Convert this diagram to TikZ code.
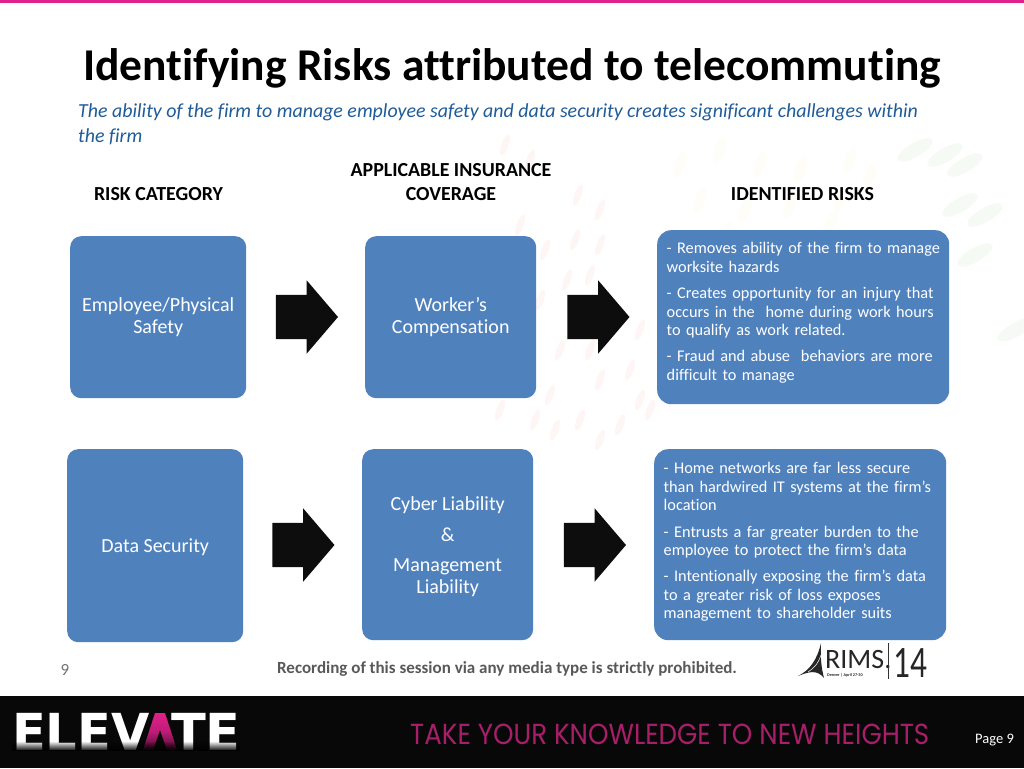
\documentclass[tikz,border=0pt]{standalone}
\usepackage{fontspec}
\setmainfont[RawFeature={-liga;-clig}]{Carlito}
\newfontfamily\tagfont{Poppins}
\newfontfamily\logofont{DejaVu Sans}
\usetikzlibrary{shapes.arrows,fadings}
\definecolor{boxblue}{HTML}{4F81BD}
\definecolor{subblue}{HTML}{1F5C99}
\definecolor{pinkbar}{HTML}{E0218A}
\definecolor{magtext}{HTML}{A81E68}
\definecolor{bgpink}{HTML}{FDF6F5}
\definecolor{bgyellow}{HTML}{FEFDF7}
\definecolor{bggreen}{HTML}{F6FAF4}
\tikzset{
  x=1pt,y=-1pt,
  box/.style={fill=boxblue,draw=none,rounded corners=11pt,text=white,align=center,inner sep=0pt,anchor=north west,font=\fontsize{20}{22}\selectfont},
  riskbox/.style={fill=boxblue,draw=none,rounded corners=14pt,anchor=north west},
  risktext/.style={text=white,align=left,anchor=west,inner sep=0pt,text width=287pt,font=\fontsize{16.3}{18.6}\selectfont},
  blockarrow/.style={single arrow,fill=black!95,draw=none,minimum height=62pt,single arrow head extend=14.5pt,single arrow tip angle=99,inner sep=0pt,outer sep=0pt},
  heading/.style={font=\bfseries\fontsize{19.9}{24.5}\selectfont,align=center,text=black,inner sep=0pt},
}
\newcommand{\shaft}{\rule{0pt}{44pt}}
\begin{document}
\begin{tikzpicture}
\useasboundingbox (0,0) rectangle (1024,768);
\fill[white] (0,0) rectangle (1024,768);
% faint background streaks
\foreach \px/\py in {505/145,530/160,578/195,600/210,520/225,575/240,600/245,545/250,590/275,567/280,522/290,540/300,575/310,610/320,640/330,525/340,560/350,590/350,630/370,520/385,550/395,600/380,640/400,500/410,535/420,580/420,620/425,650/410,555/430,600/440}
  \fill[bgpink,rotate around={-20:(\px,\py)}] (\px,\py) ellipse (3.5 and 11);
\foreach \px/\py in {680/165,720/150,760/165,800/170,850/160,700/200,745/210,790/205,840/200,870/175,725/235,830/225}
  \fill[bgyellow,rotate around={-20:(\px,\py)}] (\px,\py) ellipse (5 and 14);
\foreach \px/\py in {915/150,945/155,965/165,985/215,975/255,960/205,1015/330}
  \fill[bggreen,rotate around={-60:(\px,\py)}] (\px,\py) ellipse (7 and 20);
\fill[pinkbar] (0,0) rectangle (1024,3);
% title
\node[inner sep=0pt,font=\bfseries\fontsize{45.5}{48}\selectfont] (title) at (512,68.5) {Identifying Risks attributed to telecommuting};
\node[inner sep=0pt,anchor=north west,align=left,text=subblue,font=\itshape\fontsize{19.9}{24.5}\selectfont] (sub) at (78,103.5) {The ability of the firm to manage employee safety and data security creates significant challenges within\\the firm};
% headings
\node[heading] (h1) at (158.5,194) {RISK CATEGORY};
\node[heading] (h2) at (451,182) {APPLICABLE INSURANCE\\COVERAGE};
\node[heading] (h3) at (802.5,194) {IDENTIFIED RISKS};
% row 1
\node[box,minimum width=176pt,minimum height=162pt] (a1) at (70,236) {Employee/Physical\\Safety};
\node[box,minimum width=171pt,minimum height=162pt] (b1) at (365,236) {Worker’s\\Compensation};
\node[riskbox,minimum width=292pt,minimum height=174pt] (c1) at (657,230) {};
\node[risktext] (c1a) at (666.5,257.5) {- Removes ability of the firm to manage\\worksite hazards};
\node[risktext] (c1b) at (666.5,313) {- Creates opportunity for an injury that\\occurs in the~ home during work hours\\to qualify as work related.};
\node[risktext] (c1c) at (666.5,366.5) {- Fraud and abuse~ behaviors are more\\difficult to manage};
\node[blockarrow] (ar1) at (297.5,317) {\shaft};
\node[blockarrow] (ar2) at (589,317) {\shaft};
% row 2
\node[box,minimum width=176pt,minimum height=193pt] (a2) at (67,449) {\rule{0pt}{16pt}Data Security};
\node[box,minimum width=171pt,minimum height=191pt,align=center] (b2) at (362,449) {\rule{0pt}{18pt}Cyber Liability\\[8.5pt]\&\\[8.5pt]Management\\Liability};
\node[riskbox,minimum width=292pt,minimum height=191pt] (c2) at (654,449) {};
\node[risktext] (c2a) at (663.5,486.5) {- Home networks are far less secure\\than hardwired IT systems at the firm’s\\location};
\node[risktext] (c2b) at (663.5,542) {- Entrusts a far greater burden to the\\employee to protect the firm’s data};
\node[risktext] (c2c) at (663.5,596) {- Intentionally exposing the firm’s data\\to a greater risk of loss exposes\\management to shareholder suits};
\node[blockarrow] (ar3) at (294,545) {\shaft};
\node[blockarrow] (ar4) at (585.5,545) {\shaft};
% footer
\node[inner sep=0pt,text=black!55,font=\fontsize{17}{18}\selectfont] (num) at (65,670) {9};
\node[inner sep=0pt,text=black!65,font=\bfseries\fontsize{17}{18}\selectfont] (rec) at (507,668.5) {Recording of this session via any media type is strictly prohibited.};
% RIMS logo
\fill[black!85] (798,676) .. controls (810,670) and (817,660) .. (821,643) .. controls (820,660) and (822,670) .. (824,678) .. controls (817,669) and (808,672) .. (798,676) -- cycle;
\draw[white,line width=.5pt] (808,672) .. controls (814,668) and (818,664) .. (821,655);
\node[inner sep=0pt,anchor=west,text=black!85,font=\fontsize{28}{28}\selectfont] (rims) at (825,659.5) {RIMS.};
\node[inner sep=0pt,anchor=west,text=black!85,font=\bfseries\fontsize{4.2}{4.2}\selectfont] (den) at (827,675.5) {Denver | April 27-30};
\draw[black!80,line width=1pt] (888,643) -- (888,679);
\node[inner sep=0pt,anchor=west,text=black!85,xscale=.74,font=\fontsize{45}{46}\selectfont] (yr) at (893,663) {14};
% bottom band
\fill[black!97] (0,696) rectangle (1024,768);
\node[inner sep=0pt,anchor=base west,text=white,xscale=.97,font=\logofont\bfseries\fontsize{51}{52}\selectfont] (el) at (12,750) {ELEV};
\node[inner sep=0pt,anchor=base east,text=white,font=\logofont\bfseries\fontsize{51}{52}\selectfont] (te) at (241,750) {TE};
\shade[top color=pinkbar,bottom color=pinkbar!35!black,middle color=pinkbar!85!black] (155,713) -- (165,713) -- (177,750) -- (167,750) -- (160,730) -- (153,750) -- (143,750) -- cycle;
\fill[black,path fading=north] (12,741) rectangle (240,751);
\node[inner sep=0pt,anchor=west,text=magtext,xscale=.9,font=\tagfont\fontsize{29}{30}\selectfont] (tag) at (410,734) {TAKE YOUR KNOWLEDGE TO NEW HEIGHTS};
\node[inner sep=0pt,text=white,font=\fontsize{14.5}{15}\selectfont] (pg) at (994.5,740.5) {Page 9};
\end{tikzpicture}
\end{document}
